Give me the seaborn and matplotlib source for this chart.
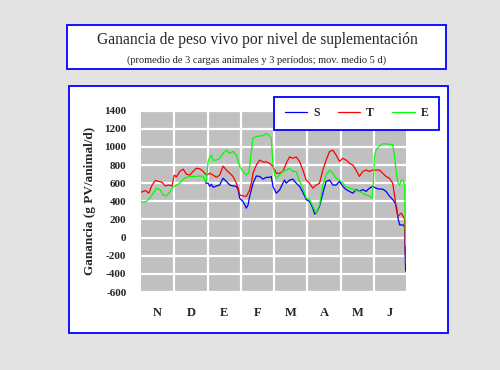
import matplotlib
matplotlib.use("Agg")
import matplotlib.pyplot as plt
from matplotlib.patches import Rectangle
from matplotlib.lines import Line2D
import seaborn as sns
import pandas as pd

# ---------------- data ----------------
months = ["N", "D", "E", "F", "M", "A", "M", "J"]
month_starts = [0, 30, 60, 90, 120, 150, 180, 210]
month_centers = [15, 45, 75, 105, 135, 165, 195, 224]
y_ticks = [-600, -400, -200, 0, 200, 400, 600, 800, 1000, 1200, 1400]

s_day = [58, 59, 60.5, 62, 63.5, 65, 68, 71, 72.5, 74, 77, 80, 83, 86, 87.5, 89, 92, 95, 96.5, 98,
         101, 104, 107, 110, 113, 116, 117.5, 119, 122, 125, 128, 129.5, 131, 134, 137, 140, 143,
         146, 149, 152, 155, 156.5, 158, 161, 164, 167, 170, 173, 176, 179, 182, 185, 188, 191,
         194, 197, 200, 203, 206, 209, 212, 215, 218, 221, 224, 227, 228.8, 230.3, 231.8, 233.3,
         236.3, 237.8, 238.3, 238.7]
s_val = [605, 600, 600, 565, 590, 555, 570, 580, 620, 655, 620, 580, 570, 565, 530, 435, 400, 325, 360, 455,
         600, 680, 675, 645, 665, 665, 675, 565, 490, 525, 600, 635, 600, 635, 645, 600, 565,
         500, 420, 400, 325, 260, 270, 345, 490, 620, 635, 580, 580, 620, 565, 530, 510, 490,
         530, 510, 530, 510, 545, 565, 545, 535, 535, 510, 460, 420, 390, 345, 215, 140,
         140, 120, -200, -370]

t_day = [0, 4, 7, 10, 13, 16, 19, 22, 25, 28, 30, 32, 35, 38, 41, 44, 47, 50, 53, 56, 59, 62, 65, 68,
         71, 74, 77, 80, 83, 86, 88, 89, 92, 95, 98, 100, 101, 104, 107, 110, 113, 116, 119, 122,
         125, 128, 131, 134, 137, 140, 143, 146, 149, 152, 155, 158, 161, 164, 167, 170, 173, 176,
         179, 182, 185, 188, 191, 194, 197, 200, 203, 206, 209, 212, 215, 218, 221, 224, 227,
         228.8, 230.3, 231.8, 233.3, 234.8, 236.3, 237.8, 238.3, 238.7]
t_val = [500, 520, 490, 580, 630, 620, 610, 570, 580, 570, 690, 670, 730, 755, 700, 690, 730, 765, 760, 730,
         690, 710, 690, 665, 690, 790, 745, 710, 675, 600, 530, 470, 460, 455, 525, 635, 710, 800,
         855, 835, 835, 820, 785, 710, 710, 730, 820, 890, 875, 890, 840, 745, 635, 600, 545, 580,
         600, 745, 855, 950, 965, 910, 840, 875, 855, 820, 800, 745, 675, 730, 745, 730, 745, 745,
         745, 710, 675, 655, 600, 455, 310, 235, 255, 270, 235, 200, -100, -280]

e_day = [0, 2, 5, 8, 11, 14, 17, 20, 23, 26, 29, 32, 35, 38, 41, 44, 47, 50, 53, 56, 58, 59, 60.5, 62,
         63.5, 65, 68, 71, 74, 77, 80, 83, 86, 89, 92, 95, 97, 98, 100, 101, 104, 107, 110, 113, 116,
         117.5, 119, 120.5, 122, 125, 128, 131, 134, 137, 140, 143, 146, 149, 152, 155, 158, 161, 164,
         167, 170, 173, 176, 179, 182, 185, 188, 191, 194, 197, 200, 203, 206, 208.5, 209.7, 210.5,
         212, 215, 218, 221, 224, 227, 228.8, 230.3, 231.8, 233.3, 234.8, 236.3, 237.8, 238.3, 238.7]
e_val = [400, 390, 400, 435, 490, 545, 530, 470, 460, 505, 560, 580, 600, 645, 665, 675, 675, 675, 680, 675,
         620, 620, 840, 890, 910, 855, 855, 875, 930, 965, 930, 950, 910, 785, 730, 690, 710, 785, 1000,
         1095, 1115, 1120, 1125, 1150, 1120, 1095, 820, 690, 655, 690, 730, 745, 765, 730, 730, 620,
         545, 435, 420, 345, 270, 360, 580, 690, 745, 710, 655, 635, 600, 560, 545, 535, 520, 510,
         490, 470, 460, 435, 635, 890, 965, 1010, 1035, 1035, 1030, 1025, 890, 710, 600, 580, 635,
         635, 580, 160, -90]

series = [("S", s_day, s_val, "#0000FF"),
          ("T", t_day, t_val, "#FF0000"),
          ("E", e_day, e_val, "#00FF00")]

# ---------------- figure ----------------
sns.set_style("white")
plt.rcParams["font.family"] = ["Liberation Serif", "DejaVu Serif"]

W, H = 500, 370
fig = plt.figure(figsize=(5, 3.7), dpi=100)
fig.patch.set_facecolor("#E3E3E3")

def px_rect(x0, y0, x1, y1):
    return (x0 / W, 1 - y1 / H, (x1 - x0) / W, (y1 - y0) / H)

# title box
r = px_rect(67, 25, 446, 69)
fig.patches.append(Rectangle(r[:2], r[2], r[3], transform=fig.transFigure,
                             facecolor="white", edgecolor="#0000FF", linewidth=1.3, zorder=0))
fig.text(257 / W, 1 - 40 / H, "Ganancia de peso vivo por nivel de suplementación",
         ha="center", va="center", fontsize=11.2)
fig.text(257 / W, 1 - 60 / H, "(promedio de 3 cargas animales y 3 períodos; mov. medio 5 d)",
         ha="center", va="center", fontsize=7.5)

# chart box
r = px_rect(69, 86, 448, 333)
fig.patches.append(Rectangle(r[:2], r[2], r[3], transform=fig.transFigure,
                             facecolor="white", edgecolor="#0000FF", linewidth=1.3, zorder=0))

ax = fig.add_axes(px_rect(141, 110.7, 406, 292))
ax.set_zorder(2)
ax.set_facecolor("#C0C0C0")

for name, d, v, c in series:
    df = pd.DataFrame({"day": d, "val": v})
    sns.lineplot(data=df, x="day", y="val", color=c, linewidth=0.9, ax=ax,
                 estimator=None, sort=False, label=name, legend=False, zorder=3)

ax.set_xlim(0, 239)
ax.set_ylim(-600, 1400)
ax.set_yticks(y_ticks)
ax.set_yticklabels([str(t) for t in y_ticks], fontsize=8, fontweight="bold")
ax.set_xticks(month_centers)
ax.set_xticklabels(months, fontsize=9, fontweight="bold")
ax.tick_params(axis="both", length=0)
ax.tick_params(axis="y", pad=10.5)
ax.tick_params(axis="x", pad=10.5)
for t in y_ticks:
    ax.axhline(t, color="white", linewidth=1.6, zorder=1)
for m in month_starts[1:]:
    ax.axvline(m, color="white", linewidth=1.6, zorder=1)
for sp in ax.spines.values():
    sp.set_visible(False)
ax.set_xlabel("")
ax.set_ylabel("Ganancia (g PV/animal/d)", fontsize=9.5, fontweight="bold", labelpad=6)

# legend
handles = [Line2D([0], [0], color=c, linewidth=0.9) for _, _, _, c in series]
labels = [n for n, _, _, _ in series]
lr = px_rect(274, 98, 439, 129)
leg = fig.legend(handles, labels, loc="center", bbox_to_anchor=lr, mode="expand", ncol=3,
                 frameon=True, fancybox=False, borderaxespad=0, handlelength=1.9,
                 handletextpad=0.5, columnspacing=1.5,
                 prop={"weight": "bold", "size": 8.5}, borderpad=0.9)
leg.set_zorder(5)
leg.get_frame().set_edgecolor("#0000FF")
leg.get_frame().set_linewidth(1.3)
leg.get_frame().set_facecolor("white")
leg.get_frame().set_alpha(1)

fig.savefig("out.png", dpi=100, facecolor=fig.get_facecolor())
